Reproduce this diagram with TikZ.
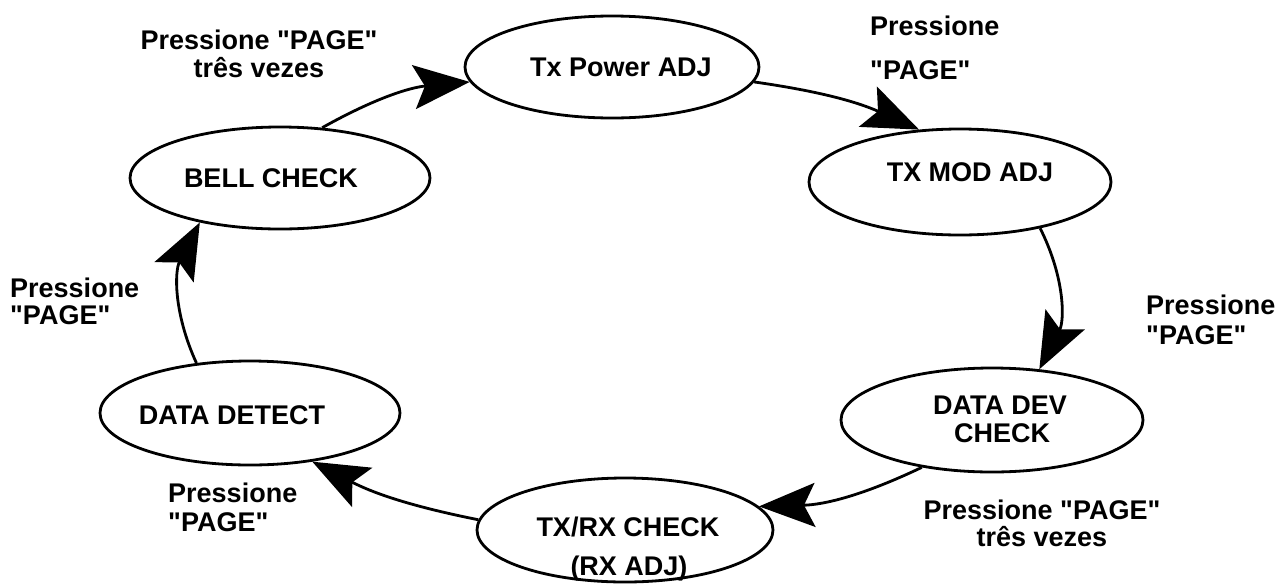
\documentclass[tikz,border=0pt]{standalone}
\usepackage{fontspec}
\setmainfont{Liberation Sans}[Ligatures=TeXOff]
\usetikzlibrary{arrows.meta,shapes.geometric}
\begin{document}
\begin{tikzpicture}[x=1pt,y=-1pt,
  oval/.style={draw, ellipse, line width=2.8pt, inner sep=0pt},
  txt/.style={font=\fontsize{27}{29}\selectfont\bfseries, inner sep=0pt, anchor=base},
  txtl/.style={txt, anchor=base west},
  flow/.style={line width=2.8pt, -{Stealth[length=56pt,width=44pt,inset=11pt]}}]
\useasboundingbox[fill=white] (0,0) rectangle (1276,584);
% states
\node[oval, minimum width=294pt, minimum height=102pt] (txp)  at (612,67)  {};
\node[oval, minimum width=302pt, minimum height=106pt] (txm)  at (960,182) {};
\node[oval, minimum width=302pt, minimum height=104pt] (ddc)  at (992,420) {};
\node[oval, minimum width=296pt, minimum height=104pt] (txrx) at (625,530) {};
\node[oval, minimum width=300pt, minimum height=104pt] (dd)   at (250,413) {};
\node[oval, minimum width=300pt, minimum height=102pt] (bell) at (280,178) {};
% state texts
\node[txt] (txp-t)  at (621,76)  {Tx Power ADJ};
\node[txt] (txm-t)  at (970,181) {TX MOD ADJ};
\node[txt] (ddc-t1) at (1000,414) {DATA DEV};
\node[txt] (ddc-t2) at (1002,442) {CHECK};
\node[txt] (txrx-t1) at (628,536) {TX/RX CHECK};
\node[txt] (txrx-t2) at (629,575) {(RX ADJ)};
\node[txt] (dd-t)   at (232,424) {DATA DETECT};
\node[txt] (bell-t) at (271,187) {BELL CHECK};
% transition labels
\node[txt]  (l1a) at (259,49) {Pressione "PAGE"};
\node[txt]  (l1b) at (259,77) {três vezes};
\node[txtl] (l2a) at (870,35) {Pressione};
\node[txtl] (l2b) at (870,79) {"PAGE"};
\node[txtl] (l3a) at (1146,314) {Pressione};
\node[txtl] (l3b) at (1146,344) {"PAGE"};
\node[txt]  (l4a) at (1042,519) {Pressione "PAGE"};
\node[txt]  (l4b) at (1042,546) {três vezes};
\node[txtl] (l5a) at (168,502) {Pressione};
\node[txtl] (l5b) at (168,531) {"PAGE"};
\node[txtl] (l6a) at (10,297) {Pressione};
\node[txtl] (l6b) at (10,324) {"PAGE"};
% transitions
\draw[flow] (bell.50)  to[bend left=12] (txp.186);
\draw[flow] (txp.-6)   to[bend left=8]  (txm.128);
\draw[flow] (txm.-30)  to[bend left=27] (ddc.47);
\draw[flow] (ddc.214)  to[bend left=12] (txrx.10);
\draw[flow] (txrx.176) to[bend left=8]  (dd.-38);
\draw[flow] (dd.137)   to[bend left=26] (bell.209);
\end{tikzpicture}
\end{document}
